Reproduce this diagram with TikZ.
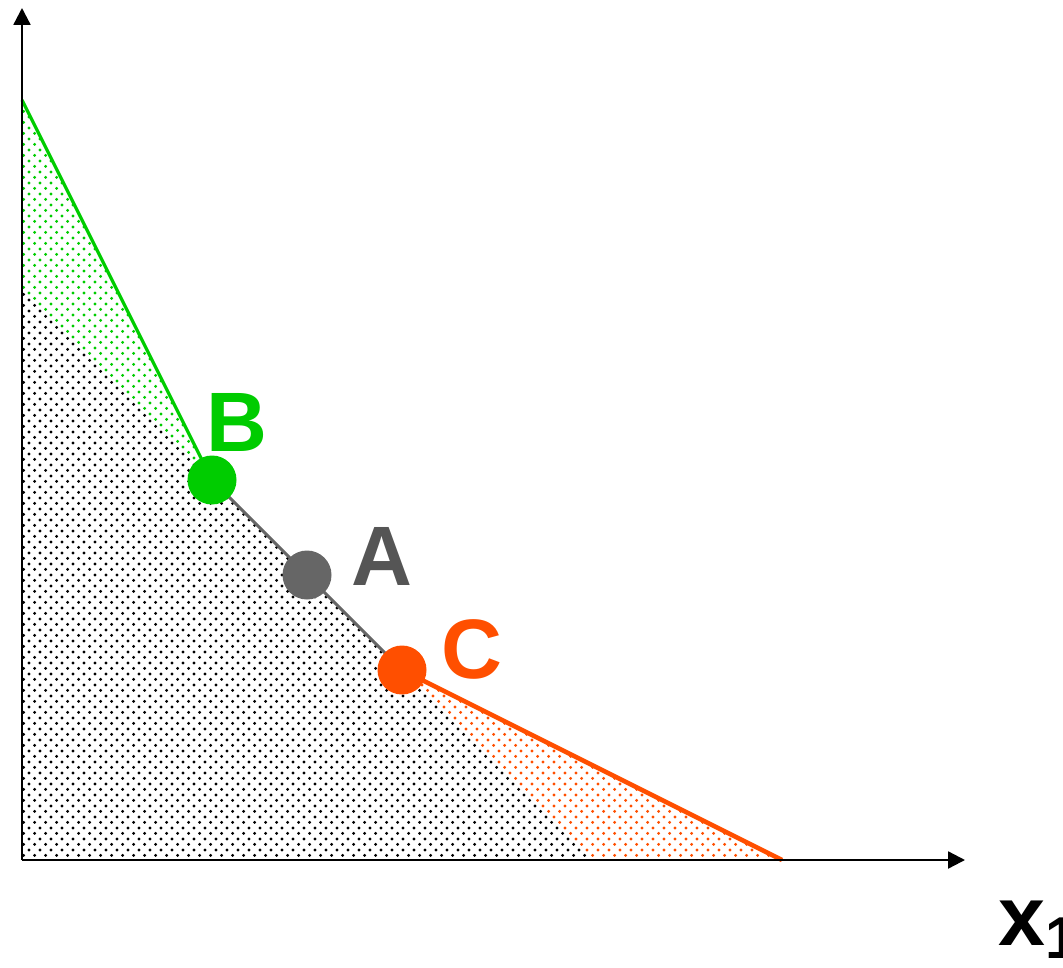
\documentclass[tikz,border=0pt]{standalone}
\usepackage{fontspec}
\setmainfont{Liberation Sans}
\usepackage{tikz}
\usetikzlibrary{arrows.meta,patterns}
\definecolor{PLgreen}{HTML}{00CC00}
\definecolor{PLgray}{HTML}{666666}
\definecolor{PLdarkgray}{HTML}{555555}
\definecolor{PLred}{HTML}{FF4F00}
\pgfdeclarepatternformonly{finedots}{\pgfpointorigin}{\pgfqpoint{3.1pt}{3.1pt}}{\pgfqpoint{3.1pt}{3.1pt}}{
  \pgfpathcircle{\pgfqpoint{0.75pt}{0.75pt}}{.45pt}
  \pgfpathcircle{\pgfqpoint{2.3pt}{2.3pt}}{.45pt}
  \pgfusepath{fill}
}
\tikzset{
  pt/.style={circle, minimum size=4.9mm, inner sep=0pt},
  lbl/.style={anchor=base, inner sep=0pt, font=\fontsize{24}{28}\selectfont\bfseries},
  axis/.style={line width=0.65pt, -{Triangle[width=4.8pt,length=4.8pt]}}
}
\begin{document}
\begin{tikzpicture}
  \useasboundingbox (-0.22,-1.07) rectangle (10.41,8.60);
  \coordinate (O) at (0,0);
  \coordinate (ytop) at (0,8.52);
  \coordinate (xend) at (9.43,0);
  \coordinate (gtop) at (0,7.6);
  \coordinate (mid) at (0,5.7);
  \coordinate (mcut) at (5.7,0);
  \coordinate (rend) at (7.6,0);
  \coordinate (Bp) at (1.9,3.8);
  \coordinate (Ap) at (2.85,2.85);
  \coordinate (Cp) at (3.8,1.9);
  % dotted regions
  \fill[pattern=finedots, pattern color=black] (O) -- (mid) -- (mcut) -- cycle;
  \fill[pattern=finedots, pattern color=PLgreen] (gtop) -- (Bp) -- (mid) -- cycle;
  \fill[pattern=finedots, pattern color=PLred] (Cp) -- (rend) -- (mcut) -- cycle;
  % boundary lines
  \draw[PLgreen, line width=0.9pt] (gtop) -- (Bp);
  \draw[PLgray, line width=0.9pt] (Bp) -- (Cp);
  \draw[PLred, line width=1.3pt] (Cp) -- (rend);
  % axes
  \draw[axis] (O) -- (ytop);
  \draw[axis] (O) -- (xend);
  \node[pt, fill=PLgreen] (B) at (Bp) {};
  \node[pt, fill=PLgray] (A) at (Ap) {};
  \node[pt, fill=PLred] (C) at (Cp) {};
  \node[lbl, PLgreen] (Blbl) at (2.15,4.09) {B};
  \node[lbl, PLdarkgray] (Albl) at (3.60,2.75) {A};
  \node[lbl, PLred] (Clbl) at (4.50,1.82) {C};
  \node[lbl, anchor=base west] (xlbl) at (9.76,-0.85) {x\textsubscript{1}};
\end{tikzpicture}
\end{document}
